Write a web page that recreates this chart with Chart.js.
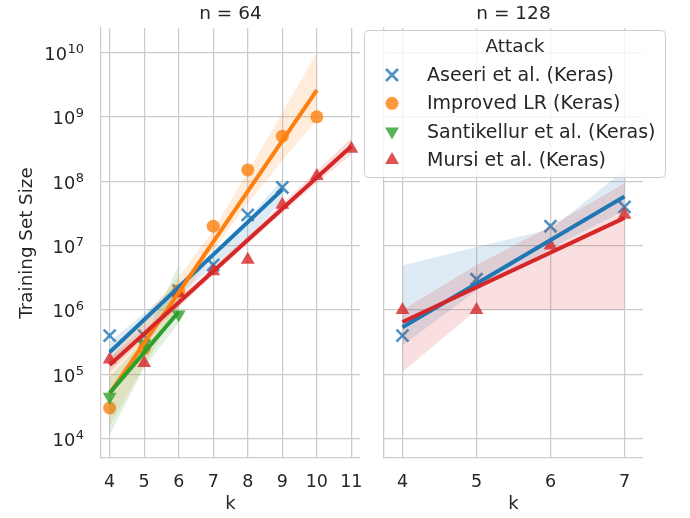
<!DOCTYPE html>
<html><head><meta charset="utf-8">
<script src="https://cdn.jsdelivr.net/npm/chart.js@4.4.0/dist/chart.umd.min.js"></script>
<style>
html,body{margin:0;padding:0;background:#fff;}
#wrap{position:relative;width:690px;height:518px;overflow:hidden;}
canvas{position:absolute;left:0;top:0;}
</style></head><body>
<div id="wrap"><canvas id="c1" width="690" height="518"></canvas><canvas id="c2" width="690" height="518"></canvas></div>
<script>
// ---------------- data ----------------
const seriesNames = ['Aseeri et al. (Keras)', 'Improved LR (Keras)', 'Santikellur et al. (Keras)', 'Mursi et al. (Keras)'];
const yTickExponents = [4, 5, 6, 7, 8, 9, 10];
const xTicks64 = [4, 5, 6, 7, 8, 9, 10, 11];
const xTicks128 = [4, 5, 6, 7];

// n = 64 panel
const kAseeri64 = [4, 5, 6, 7, 8, 9];
const aseeri64 = [4e5, 4e5, 2e6, 5e6, 3e7, 8e7];
const aseeri64Fit = [2.2e5, 7.4e7];
const aseeri64Upper = [3.2e5, 8.9e5, 2.6e6, 7.9e6, 2.6e7, 1.05e8];
const aseeri64Lower = [1.5e5, 5.2e5, 1.66e6, 4.8e6, 1.3e7, 5e7];

const kImproved64 = [4, 5, 6, 7, 8, 9, 10];
const improved64 = [3e4, 2.5e5, 2e6, 2e7, 1.5e8, 5e8, 1e9];
const improved64Fit = [5e4, 2.6e9];
const improved64Upper = [1.8e5, 7.8e5, 3.3e6, 1.7e7, 1.4e8, 1.15e9, 1e10];
const improved64Lower = [1.6e4, 1.35e5, 1.17e6, 8.5e6, 4.5e7, 2.1e8, 9e8];

const kSantikellur64 = [4, 5, 6];
const santikellur64 = [4.5e4, 3e5, 8.5e5];
const santikellur64Fit = [5.1e4, 9.4e5];
const santikellur64Upper = [8.9e4, 3.5e5, 5e6];
const santikellur64Lower = [1.15e4, 1.26e5, 6.3e5];

const kMursi64 = [4, 5, 6, 7, 8, 9, 10, 11];
const mursi64 = [1.7e5, 1.5e5, 1.8e6, 4e6, 6e6, 4.3e7, 1.2e8, 3.2e8];
const mursi64Fit = [1.4e5, 3.5e8];
const mursi64Upper = [1.8e5, 5.2e5, 1.55e6, 4.7e6, 1.4e7, 4.5e7, 1.45e8, 4.7e8];
const mursi64Lower = [1.1e5, 3.6e5, 1.1e6, 3.5e6, 1.07e7, 3.2e7, 9.5e7, 2.6e8];

// n = 128 panel
const k128 = [4, 5, 6, 7];
const aseeri128 = [4e5, 3e6, 2e7, 4e7];
const aseeri128Fit = [5.4e5, 5.8e7];
const aseeri128Upper = [4.9e6, 9.5e6, 1.8e7, 1.5e8];
const aseeri128Lower = [2.8e5, 2e6, 8.9e6, 3.5e7];

const mursi128 = [1e6, 1e6, 1e7, 3e7];
const mursi128Fit = [6.5e5, 2.7e7];
const mursi128Upper = [1e6, 5e6, 2e7, 9.3e7];
const mursi128Lower = [1.1e5, 1e6, 1e6, 1e6];

// ---------------- styles ----------------
const FONT = 'DejaVu Sans';
const TXT = '#262626';
const GRID = '#cccccc';
const COLORS = [[31,119,180],[255,127,14],[44,160,44],[214,39,40]];
const rgba = (c, a) => `rgba(${c[0]},${c[1]},${c[2]},${a})`;
const MARKERS = [
  {pointStyle:'crossRot', radius:8.5, rotation:0, fill:false},
  {pointStyle:'circle', radius:6.5, rotation:0, fill:true},
  {pointStyle:'triangle', radius:8, rotation:180, fill:true},
  {pointStyle:'triangle', radius:8, rotation:0, fill:true}
];
function markerProps(i) {
  const m = MARKERS[i], c = COLORS[i];
  return {
    pointStyle: m.pointStyle, pointRadius: m.radius, pointRotation: m.rotation,
    pointBackgroundColor: m.fill ? rgba(c, 0.8) : 'rgba(0,0,0,0)',
    pointBorderColor: m.fill ? 'rgba(0,0,0,0)' : rgba(c, 0.8),
    pointBorderWidth: m.fill ? 0 : 2.6
  };
}
const pts = (ks, vals) => ks.map((k, j) => ({x: k, y: vals[j]}));

function buildDatasets(groups) {
  const seq = [];
  groups.forEach(g => {
    seq.push(Object.assign({type:'line', data: pts(g.ks, g.vals), showLine:false, borderWidth:0}, markerProps(g.idx)));
    seq.push({type:'line', data: pts(g.ks, g.upper), borderWidth:0, pointRadius:0, fill:false, borderColor:'rgba(0,0,0,0)'});
    seq.push({type:'line', data: pts(g.ks, g.lower), borderWidth:0, pointRadius:0, fill:'-1', borderColor:'rgba(0,0,0,0)', backgroundColor: rgba(COLORS[g.idx], 0.15)});
  });
  groups.forEach(g => {
    const k0 = g.ks[0], k1 = g.ks[g.ks.length - 1];
    seq.push({type:'line', data: [{x:k0, y:g.fit[0]}, {x:k1, y:g.fit[1]}], borderColor: rgba(COLORS[g.idx], 1), borderWidth: 4, pointRadius: 0, fill:false, borderCapStyle:'butt'});
  });
  seq.forEach((d, i) => { d.order = 1000 - i; });
  return seq;
}

// y tick labels "10" with a raised exponent, placed at the library's tick pixels
const yLabelPlugin = {
  id: 'yPowLabels',
  afterDraw(chart) {
    const s = chart.scales.y;
    if (!chart.options.plugins.yPowLabels || !chart.options.plugins.yPowLabels.show) return;
    const ctx = chart.ctx;
    ctx.save();
    ctx.fillStyle = TXT;
    ctx.textBaseline = 'alphabetic';
    const right = s.right - 17;
    s.ticks.forEach(t => {
      const y = s.getPixelForValue(t.value);
      const e = String(Math.round(Math.log10(t.value)));
      ctx.font = `13px "${FONT}"`;
      const ew = ctx.measureText(e).width;
      ctx.textAlign = 'left';
      ctx.fillText(e, right - ew, y + 0.5);
      ctx.font = `17.8px "${FONT}"`;
      ctx.textAlign = 'right';
      ctx.fillText('10', right - ew - 0.5, y + 7.5);
    });
    ctx.restore();
  }
};

function makeOptions(p) {
  return {
    responsive: false, animation: false, events: [],
    layout: {padding: {left: 0, right: p.padRight, top: 0, bottom: 0}},
    plugins: {
      legend: {display: false}, tooltip: {enabled: false},
      yPowLabels: {show: p.showY},
      title: {display: true, text: p.title, fullSize: false, color: TXT,
        font: {family: FONT, size: 18.5, weight: 'normal'}, padding: {top: 3, bottom: 2.8}}
    },
    scales: {
      x: {
        type: 'linear', min: 3.75, max: p.xmax,
        afterBuildTicks: s => { s.ticks = p.xticks.map(v => ({value: v})); },
        afterFit: s => { s.height = 60; s.paddingLeft = 0; s.paddingRight = 0; },
        grid: {color: GRID, lineWidth: 1.25, drawTicks: false},
        border: {display: true, color: GRID, width: 1.25},
        ticks: {color: TXT, font: {family: FONT, size: 17.5}, padding: 14, autoSkip: false, maxRotation: 0, callback: v => String(v)},
        title: {display: true, text: 'k', color: TXT, font: {family: FONT, size: 18}, padding: {top: 0, bottom: 2.5}}
      },
      y: {
        type: 'logarithmic', min: 5012, max: 2.4e10,
        afterBuildTicks: s => { s.ticks = yTickExponents.map(e => ({value: Math.pow(10, e)})); },
        afterFit: s => { s.width = p.yWidth; s.paddingTop = 0; s.paddingBottom = 0; },
        grid: {color: GRID, lineWidth: 1.25, drawTicks: false},
        border: {display: true, color: GRID, width: 1.25},
        ticks: {display: false},
        title: {display: p.showY, text: 'Training Set Size', color: TXT, font: {family: FONT, size: 18.3}, padding: {top: 16, bottom: 0}}
      }
    }
  };
}

function drawMarker(ctx, i, x, y) {
  const m = MARKERS[i], c = COLORS[i];
  const opts = {pointStyle: m.pointStyle, radius: m.radius, rotation: m.rotation, borderWidth: m.fill ? 0 : 2.6};
  ctx.save();
  ctx.fillStyle = m.fill ? rgba(c, 0.8) : 'rgba(0,0,0,0)';
  ctx.strokeStyle = m.fill ? 'rgba(0,0,0,0)' : rgba(c, 0.8);
  ctx.lineWidth = opts.borderWidth;
  Chart.helpers.drawPoint(ctx, opts, x, y);
  ctx.restore();
}

const legendPlugin = {
  id: 'facetLegend',
  afterDraw(chart) {
    const ctx = chart.ctx;
    ctx.save();
    const x = 364.5, y = 30.5, w = 301, h = 147, r = 4;
    ctx.beginPath();
    ctx.moveTo(x + r, y); ctx.lineTo(x + w - r, y); ctx.arcTo(x + w, y, x + w, y + r, r);
    ctx.lineTo(x + w, y + h - r); ctx.arcTo(x + w, y + h, x + w - r, y + h, r);
    ctx.lineTo(x + r, y + h); ctx.arcTo(x, y + h, x, y + h - r, r);
    ctx.lineTo(x, y + r); ctx.arcTo(x, y, x + r, y, r); ctx.closePath();
    ctx.fillStyle = 'rgba(255,255,255,0.8)'; ctx.fill();
    ctx.strokeStyle = '#cccccc'; ctx.lineWidth = 1; ctx.stroke();
    ctx.fillStyle = TXT; ctx.textBaseline = 'middle';
    ctx.font = `18.5px "${FONT}"`; ctx.textAlign = 'center';
    ctx.fillText('Attack', 515, 47);
    ctx.font = `19px "${FONT}"`; ctx.textAlign = 'left';
    const ys = [75, 103.3, 131.6, 160];
    seriesNames.forEach((name, i) => {
      drawMarker(ctx, i, 392, ys[i]);
      ctx.fillStyle = TXT;
      ctx.fillText(name, 427, ys[i] + 1);
    });
    ctx.restore();
  }
};

new Chart(document.getElementById('c1'), {
  type: 'line',
  data: {datasets: buildDatasets([
    {idx:0, ks:kAseeri64, vals:aseeri64, fit:aseeri64Fit, upper:aseeri64Upper, lower:aseeri64Lower},
    {idx:1, ks:kImproved64, vals:improved64, fit:improved64Fit, upper:improved64Upper, lower:improved64Lower},
    {idx:2, ks:kSantikellur64, vals:santikellur64, fit:santikellur64Fit, upper:santikellur64Upper, lower:santikellur64Lower},
    {idx:3, ks:kMursi64, vals:mursi64, fit:mursi64Fit, upper:mursi64Upper, lower:mursi64Lower}
  ])},
  options: makeOptions({title: 'n = 64', xmax: 11.25, xticks: xTicks64, yWidth: 101, padRight: 330, showY: true}),
  plugins: [yLabelPlugin]
});

new Chart(document.getElementById('c2'), {
  type: 'line',
  data: {datasets: buildDatasets([
    {idx:0, ks:k128, vals:aseeri128, fit:aseeri128Fit, upper:aseeri128Upper, lower:aseeri128Lower},
    {idx:3, ks:k128, vals:mursi128, fit:mursi128Fit, upper:mursi128Upper, lower:mursi128Lower}
  ])},
  options: makeOptions({title: 'n = 128', xmax: 7.25, xticks: xTicks128, yWidth: 384, padRight: 47, showY: false}),
  plugins: [legendPlugin]
});
</script>
</body></html>
